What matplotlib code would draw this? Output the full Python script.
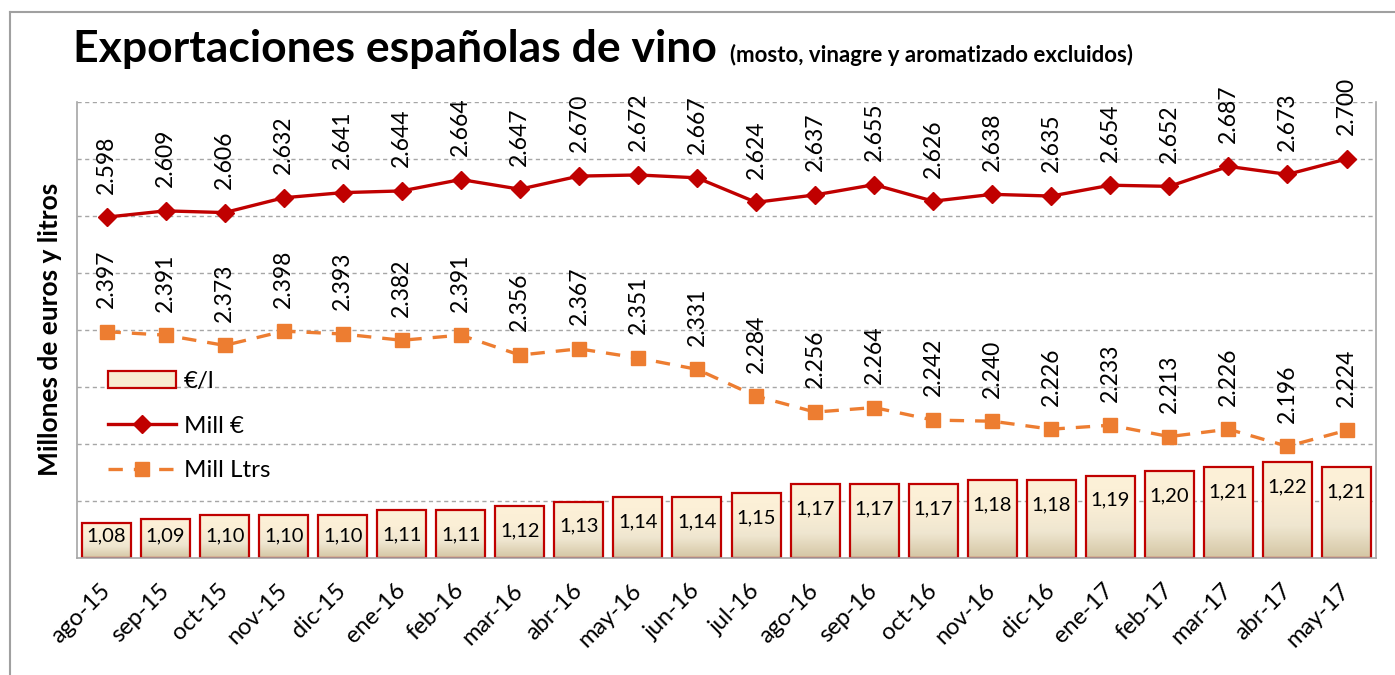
import numpy as np
import matplotlib.pyplot as plt
from matplotlib.colors import LinearSegmentedColormap
from matplotlib.lines import Line2D
from matplotlib.patches import Patch
from matplotlib.transforms import blended_transform_factory

# datos
meses = ['ago-15', 'sep-15', 'oct-15', 'nov-15', 'dic-15', 'ene-16', 'feb-16',
         'mar-16', 'abr-16', 'may-16', 'jun-16', 'jul-16', 'ago-16', 'sep-16',
         'oct-16', 'nov-16', 'dic-16', 'ene-17', 'feb-17', 'mar-17', 'abr-17',
         'may-17']
mill_eur = [2598, 2609, 2606, 2632, 2641, 2644, 2664, 2647, 2670, 2672, 2667,
            2624, 2637, 2655, 2626, 2638, 2635, 2654, 2652, 2687, 2673, 2700]
mill_ltrs = [2397, 2391, 2373, 2398, 2393, 2382, 2391, 2356, 2367, 2351, 2331,
             2284, 2256, 2264, 2242, 2240, 2226, 2233, 2213, 2226, 2196, 2224]
eur_l = [1.08, 1.09, 1.10, 1.10, 1.10, 1.11, 1.11, 1.12, 1.13, 1.14, 1.14,
         1.15, 1.17, 1.17, 1.17, 1.18, 1.18, 1.19, 1.20, 1.21, 1.22, 1.21]
grid_vals = [2100, 2200, 2300, 2400, 2500, 2600, 2700, 2800]

plt.rcParams['font.family'] = ['Lato', 'DejaVu Sans']

ROJO = '#C00000'
NARANJA = '#ED7D31'
GRIS = '#A6A6A6'

fig = plt.figure(figsize=(13.95, 6.75), dpi=100)
ax = fig.add_axes([0.0552, 0.1733, 0.9312, 0.6756])   # lineas
axb = ax.twinx()                                      # barras
ax.set_zorder(2)
axb.set_zorder(1)
ax.patch.set_visible(False)

x = np.arange(len(meses))

# rejilla detras de las barras, en unidades del eje principal
trans = blended_transform_factory(axb.transAxes, ax.transData)
for g in grid_vals:
    axb.plot([0, 1], [g, g], transform=trans, color=GRIS, lw=1,
             ls=(0, (3, 2.5)), zorder=0)

# barras con degradado
cmap_barra = LinearSegmentedColormap.from_list(
    'barra', ['#D4C6A4', '#EFE6D0', '#FBEFD6', '#FDF1D8'])
base = 1.0
bars = axb.bar(x, [v - base for v in eur_l], bottom=base, width=0.83,
               facecolor='none', edgecolor=ROJO, lw=1.6, zorder=2)
grad = np.linspace(0, 1, 100).reshape(-1, 1)
for b in bars:
    x0, y0 = b.get_x(), b.get_y()
    im = axb.imshow(grad, extent=[x0, x0 + b.get_width(), y0, y0 + b.get_height()],
                    origin='lower', cmap=cmap_barra, aspect='auto', zorder=1)
    im.set_clip_path(b)

for xi, v in zip(x, eur_l):
    axb.text(xi, max(v - 0.057, 1.05), f'{v:.2f}'.replace('.', ','),
             ha='center', va='center', fontsize=14.5, zorder=3)

# lineas
ax.plot(x, mill_eur, color=ROJO, lw=2.4, marker='D', ms=9, zorder=3)
ax.plot(x, mill_ltrs, color=NARANJA, lw=2.4, ls=(0, (4.3, 3.3)),
        marker='s', ms=10, zorder=3)

for serie in (mill_eur, mill_ltrs):
    for xi, v in zip(x, serie):
        ax.annotate(f'{v:,}'.replace(',', '.'), (xi, v), xytext=(0, 17),
                    textcoords='offset points', rotation=90, ha='center',
                    va='bottom', fontsize=16.5)

ax.set_xlim(-0.5, len(meses) - 0.5)
ax.set_ylim(2000, 2800)
axb.set_ylim(1.0, 2.05)

ax.set_xticks(x)
ax.set_xticklabels(meses, rotation=45, ha='right', va='center',
                   rotation_mode='anchor', fontsize=17)
ax.tick_params(axis='x', length=0, pad=21)
ax.tick_params(axis='y', length=0, labelleft=False)
axb.tick_params(axis='y', length=0, labelright=False)

for s in ['left', 'right', 'bottom']:
    ax.spines[s].set_color(GRIS)
    ax.spines[s].set_linewidth(1.2)
ax.spines['top'].set_visible(False)
for s in axb.spines.values():
    s.set_visible(False)

# leyenda
handles = [Patch(facecolor='#F8EBD0', edgecolor=ROJO, lw=1.6),
           Line2D([], [], color=ROJO, lw=2.4, marker='D', ms=9),
           Line2D([], [], color=NARANJA, lw=2.4, ls=(0, (4.3, 3.3)),
                  marker='s', ms=10)]
ax.legend(handles, ['€/l', 'Mill €', 'Mill Ltrs'], loc='upper left',
          bbox_to_anchor=(108 / 1395, 1 - 371 / 675),
          bbox_transform=fig.transFigure, frameon=False, fontsize=17.4,
          handlelength=2.8, handletextpad=0.33, labelspacing=0.98,
          borderpad=0, borderaxespad=0)

# textos
fig.text(50 / 1395, 1 - 329 / 675, 'Millones de euros y litros', rotation=90,
         fontweight='bold', fontsize=19, ha='center', va='center')
fig.text(73 / 1395, 1 - 62 / 675, 'Exportaciones españolas de vino',
         fontsize=32, fontweight='bold', va='baseline')
fig.text(730 / 1395, 1 - 62 / 675, '(mosto, vinagre y aromatizado excluidos)',
         fontsize=16, fontweight='bold', va='baseline')

# marco
fig.add_artist(Line2D([10 / 1395, 10 / 1395], [0, 1 - 11.5 / 675],
                      transform=fig.transFigure, color='#A0A0A0', lw=1.5))
fig.add_artist(Line2D([10 / 1395, 1], [1 - 11.5 / 675, 1 - 11.5 / 675],
                      transform=fig.transFigure, color='#A0A0A0', lw=1.5))

fig.savefig('out.png', dpi=100)
